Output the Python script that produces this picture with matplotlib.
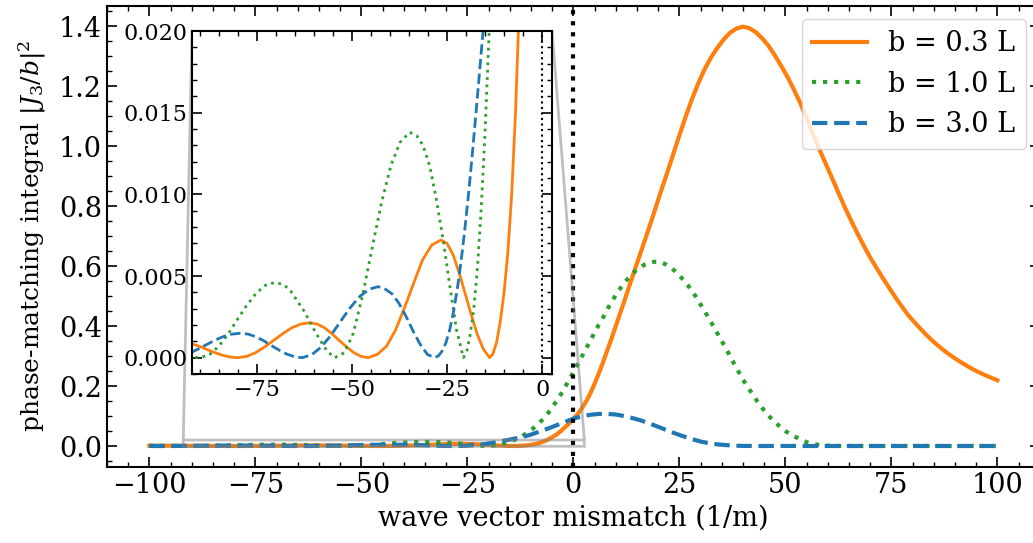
import matplotlib
matplotlib.use("Agg")
import matplotlib.pyplot as plt
from matplotlib.ticker import MultipleLocator

# --- data ----------------------------------------------------------------
# b = 0.3 L
x_03 = [-100, -98, -96, -94, -92, -90, -88, -86, -84, -82, -80,
        -77.6, -75.3, -72.9, -70.5, -68.1, -65.8, -63.4, -61,
        -59.1, -57.2, -55.3, -53.4, -51.4, -49.5, -47.6, -45.7,
        -43.3, -40.9, -38.5, -36.1, -33.7, -31.4, -29.0, -26.6,
        -25.0, -23.4, -21.8, -20.2, -18.6, -17.0, -15.4, -13.8,
        -13, -12, -11, -10, -9, -8, -7, -6, -5, -4, -3, -2, -1, 0,
        1, 2, 3, 4, 5, 6, 7, 8, 9, 10, 11, 12, 13, 14, 15, 16,
        17.5, 19, 20.5, 22, 23.5, 25, 26.5, 28, 29.5, 31, 32.5, 34, 35.5, 37, 38.5, 40,
        41.5, 43, 44.5, 46, 47.5, 49, 50.5, 52, 53.5, 55, 56.5, 58, 59.5, 61, 62.5, 64,
        65.5, 67, 68.5, 70,
        71.5, 73, 74.5, 76, 77.5, 79, 80.5, 82, 83.5, 85, 86.5, 88, 89.5, 91, 92.5, 94,
        95.5, 97, 98.5, 100]
y_03 = [0.00096, 0.00099, 0.0010, 0.00096, 0.00085, 0.00069, 0.0005, 0.00031, 0.00015, 0.00004, 0.0,
        0.00008, 0.00031, 0.00066, 0.00107, 0.00148, 0.00183, 0.00206, 0.00214,
        0.00206, 0.00183, 0.00148, 0.00107, 0.00066, 0.00031, 0.00008, 0.0,
        0.0002, 0.0007, 0.0017, 0.0031, 0.0046, 0.0060, 0.0069, 0.0072,
        0.0070, 0.0063, 0.0052, 0.0039, 0.0026, 0.0014, 0.0005, 0.0,
        0.0002, 0.0009, 0.0022, 0.0040, 0.0065, 0.0100, 0.0150, 0.0215, 0.029, 0.038, 0.049, 0.062, 0.075, 0.090,
        0.106, 0.125, 0.148, 0.175, 0.207, 0.242, 0.279, 0.318, 0.358, 0.399, 0.44, 0.482, 0.525, 0.567, 0.608, 0.65,
        0.712, 0.776, 0.842, 0.905, 0.97, 1.035, 1.098, 1.157, 1.21, 1.257, 1.296, 1.328, 1.356, 1.378, 1.392, 1.398,
        1.393, 1.38, 1.36, 1.335, 1.303, 1.268, 1.231, 1.189, 1.144, 1.093, 1.041, 0.99, 0.942, 0.894, 0.845, 0.797,
        0.752, 0.709, 0.668, 0.629,
        0.594, 0.56, 0.527, 0.495, 0.465, 0.436, 0.412, 0.389, 0.367, 0.347, 0.329, 0.312, 0.297, 0.283, 0.27, 0.258,
        0.247, 0.237, 0.228, 0.219]

# b = 1.0 L
x_10 = [-100, -98, -96, -94, -92, -90,
        -87.5, -85.1, -82.6, -80.2, -77.7, -75.2, -72.8, -70.3,
        -68.3, -66.4, -64.4, -62.4, -60.4, -58.4, -56.5, -54.5,
        -52.0, -49.6, -47.1, -44.6, -42.2, -39.7, -37.3, -34.8,
        -33.0, -31.3, -29.5, -27.8, -26.0, -24.2, -22.5, -20.7,
        -19.8, -19, -18, -17, -16, -15, -14, -13, -12, -11, -10,
        -9, -8, -7, -6, -5, -4, -3, -2, -1, 0,
        1, 2, 3, 4, 5, 6, 7, 8, 9, 10, 11, 12, 13, 14, 15, 16, 17, 18, 19, 20,
        21, 22, 23, 24, 25, 26, 27, 28, 29, 30, 31, 32, 33, 34, 35, 36, 37, 38, 39, 40,
        41, 42, 43, 44, 45, 46, 47, 48, 49, 50, 51, 52, 53, 54, 55, 56, 57, 58, 59, 60,
        62, 65, 70, 80, 90, 100]
y_10 = [0.0009, 0.00066, 0.00041, 0.0002, 0.00005, 0.0,
        0.00017, 0.00067, 0.00142, 0.0023, 0.00318, 0.00393, 0.00443, 0.0046,
        0.0045, 0.0042, 0.0035, 0.0028, 0.0019, 0.0011, 0.0004, 0.0,
        0.0003, 0.0015, 0.0039, 0.0068, 0.0095, 0.0118, 0.0132, 0.0138,
        0.0136, 0.0130, 0.0117, 0.0097, 0.0072, 0.0043, 0.0017, 0.0,
        0.0004, 0.0013, 0.0029, 0.0055, 0.0092, 0.0138, 0.0195, 0.026, 0.034, 0.043, 0.053,
        0.064, 0.077, 0.092, 0.109, 0.128, 0.149, 0.171, 0.195, 0.22, 0.246,
        0.272, 0.298, 0.324, 0.351, 0.378, 0.404, 0.428, 0.455, 0.48, 0.503,
        0.524, 0.543, 0.56, 0.575, 0.588, 0.598, 0.606, 0.611, 0.614, 0.614,
        0.611, 0.604, 0.595, 0.583, 0.569, 0.553, 0.536, 0.517, 0.496, 0.472,
        0.449, 0.425, 0.4, 0.375, 0.35, 0.325, 0.299, 0.272, 0.247, 0.222,
        0.199, 0.178, 0.157, 0.137, 0.119, 0.102, 0.087, 0.074, 0.061, 0.05,
        0.041, 0.033, 0.026, 0.019, 0.013, 0.009, 0.006, 0.0035, 0.002, 0.001,
        0.0004, 0.0002, 0.0001, 0.0002, 0.0001, 0.0001]

# b = 3.0 L
x_30 = [-100, -98, -95.65, -93.3, -90.95, -88.6, -86.25, -83.9, -81.55, -79.2,
        -77.2, -75.2, -73.2, -71.2, -69.1, -67.1, -65.1, -63.1,
        -60.6, -58.1, -55.6, -53.1, -50.6, -48.1, -45.6, -43.1,
        -41.25, -39.4, -37.55, -35.7, -33.85, -32.0, -30.15, -28.3,
        -27.3, -26.3, -25.3, -24.3, -23.3, -22.3, -21.3, -20.3, -19.3, -18.3, -17.3, -16.3, -15.3,
        -14, -12, -10, -8, -6, -4, -2, 0,
        2, 4, 6, 8, 10, 12, 14, 16, 18, 20, 22, 24, 26, 28, 30, 32, 34, 36, 38, 40, 42,
        45, 50, 55, 60, 70, 80, 90, 100]
y_30 = [0.0001, 0.0, 0.00006, 0.00022, 0.00046, 0.00075, 0.00104, 0.00128, 0.00144, 0.0015,
        0.00144, 0.00128, 0.00104, 0.00075, 0.00046, 0.00022, 0.00006, 0.0,
        0.00017, 0.00064, 0.00134, 0.00218, 0.00301, 0.00371, 0.00418, 0.00435,
        0.0042, 0.0039, 0.0033, 0.0025, 0.0016, 0.0008, 0.0002, 0.0,
        0.0001, 0.0004, 0.0009, 0.0017, 0.0028, 0.0042, 0.0059, 0.0079, 0.0101, 0.0126, 0.0152, 0.0179, 0.0206,
        0.0242, 0.030, 0.038, 0.048, 0.058, 0.069, 0.080, 0.091,
        0.099, 0.104, 0.107, 0.107, 0.105, 0.100, 0.093, 0.085, 0.075, 0.064, 0.053, 0.042, 0.032, 0.023,
        0.015, 0.0095, 0.0055, 0.003, 0.0012, 0.0004, 0.0001,
        0.0001, 0.0002, 0.0001, 0.0001, 0.0001, 0.0001, 0.0001, 0.0001]

labels = ["b = 0.3 L", "b = 1.0 L", "b = 3.0 L"]

# --- style ---------------------------------------------------------------
plt.rcParams["font.family"] = "DejaVu Serif"
plt.rcParams["mathtext.fontset"] = "dejavuserif"
plt.rcParams["axes.linewidth"] = 1.5
for a in ("xtick", "ytick"):
    plt.rcParams[a + ".direction"] = "in"
    plt.rcParams[a + ".major.size"] = 7
    plt.rcParams[a + ".minor.size"] = 3.5
    plt.rcParams[a + ".major.width"] = 1.2
    plt.rcParams[a + ".minor.width"] = 1.0
    plt.rcParams[a + ".minor.visible"] = True
plt.rcParams["xtick.top"] = True
plt.rcParams["ytick.right"] = True

fs = 19.5

fig = plt.figure(figsize=(10.33, 5.43), dpi=100)
ax = fig.add_axes([0.1035, 0.1400, 0.903, 0.8495])

ax.plot(x_03, y_03, color="#ff7f0e", lw=3, ls="-", label=labels[0])
ax.plot(x_10, y_10, color="#2ca02c", lw=3, ls=":", label=labels[1])
ax.plot(x_30, y_30, color="#1f77b4", lw=3, ls="--", label=labels[2])
ax.axvline(0, color="k", ls=":", lw=3)

ax.xaxis.set_major_locator(MultipleLocator(25))
ax.xaxis.set_minor_locator(MultipleLocator(5))
ax.yaxis.set_major_locator(MultipleLocator(0.2))
ax.yaxis.set_minor_locator(MultipleLocator(0.05))
ax.tick_params(labelsize=fs)
ax.set_xlabel("wave vector mismatch (1/m)", fontsize=fs)
ax.set_ylabel(r"phase-matching integral $|J_3/b|^2$", fontsize=18, labelpad=8)
ax.legend(loc="upper right", fontsize=fs)

# inset with the oscillations on the negative side
axins = fig.add_axes([0.1859, 0.3112, 0.3485, 0.6317])
axins.plot(x_03, y_03, color="#ff7f0e", lw=2, ls="-")
axins.plot(x_10, y_10, color="#2ca02c", lw=2, ls=":")
axins.plot(x_30, y_30, color="#1f77b4", lw=2, ls="--")
axins.axvline(0, color="k", ls=":", lw=1.5)
axins.set_xlim(-92, 2.6)
axins.set_ylim(-0.001, 0.020)
axins.xaxis.set_major_locator(MultipleLocator(25))
axins.xaxis.set_minor_locator(MultipleLocator(5))
axins.yaxis.set_major_locator(MultipleLocator(0.005))
axins.yaxis.set_minor_locator(MultipleLocator(0.001))
axins.tick_params(labelsize=16)
ax.indicate_inset_zoom(axins, edgecolor="0.5", lw=2)

fig.savefig("out.png", dpi=100)
